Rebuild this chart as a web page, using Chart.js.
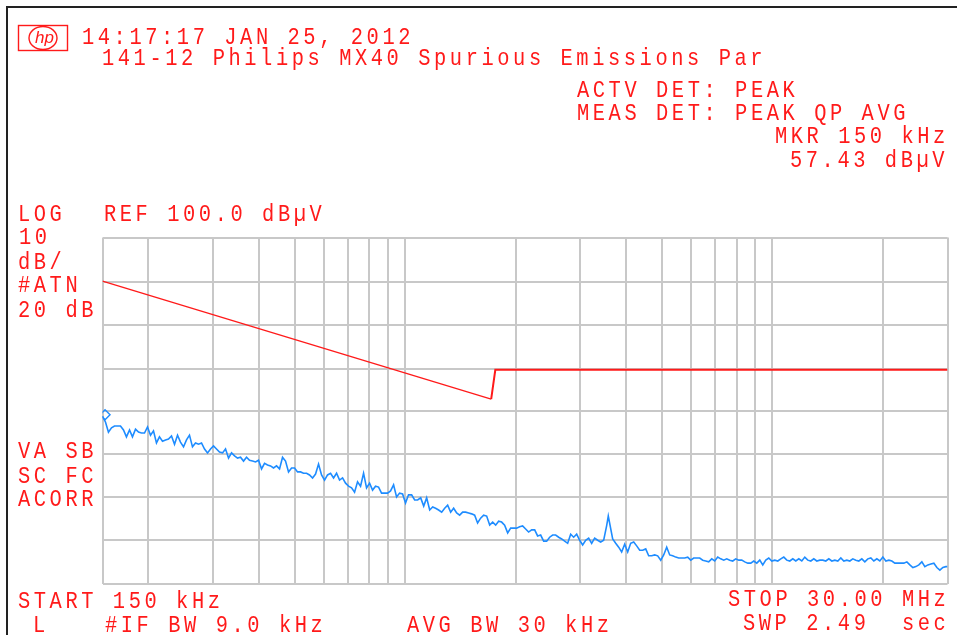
<!DOCTYPE html>
<html>
<head>
<meta charset="utf-8">
<title>141-12 Philips MX40 Spurious Emissions Par</title>
<script src="https://cdn.jsdelivr.net/npm/chart.js@4"></script>
<style>
html,body{margin:0;padding:0;background:#fff;overflow:hidden}
#wrap{position:relative;width:957px;height:635px}
canvas{position:absolute;left:0;top:0}
#frame{position:absolute;left:6px;top:6px;right:0;bottom:0;border-left:2px solid #222;border-top:2px solid #222;pointer-events:none}
</style>
</head>
<body>
<div id="wrap"><canvas id="c" width="957" height="635"></canvas><div id="frame"></div></div>
<script>
// Frequencies in kHz, decibels in dBuV
const gridFreqs = [150,200,300,400,500,600,700,800,900,1000,2000,3000,4000,5000,6000,7000,8000,9000,10000,20000,30000];
const gridLevels = [20,30,40,50,60,69.7,79.8,89.75,100];

const limitSlopeFreq = [150,1716];
const limitSlopeDb = [89.9,62.65];
const limitFlatFreq = [1716,1761,30000];
const limitFlatDb = [62.65,69.4,69.4];

const markerFreq = [152.4];
const markerDb = [59.0];

const traceFreq = [
150.0,152.9,155.7,158.7,161.7,164.8,167.9,171.1,174.3,177.7,181.0,184.5,188.0,191.5,195.2,198.9,202.7,206.5,210.4,214.4,
218.5,222.7,226.9,231.2,235.6,240.1,244.6,249.3,254.0,258.8,263.7,268.8,273.9,279.1,284.4,289.8,295.3,300.9,306.6,312.4,
318.4,324.4,330.6,336.9,343.3,349.8,356.4,363.2,370.1,377.1,384.3,391.6,399.0,406.6,414.3,422.2,430.2,438.4,446.7,455.2,
463.8,472.6,481.6,490.8,500.1,509.6,519.3,529.1,539.2,549.4,559.9,570.5,581.3,592.4,603.6,615.1,626.8,638.7,650.8,663.2,
675.8,688.6,701.7,715.0,728.6,742.4,756.5,770.9,785.5,800.5,815.7,831.1,846.9,863.0,879.4,896.1,913.1,930.5,948.2,966.2,
984.5,1003,1022,1042,1062,1082,1103,1124,1145,1167,1189,1211,1234,1258,1282,1306,1331,1356,1382,1408,
1435,1462,1490,1518,1547,1576,1606,1637,1668,1700,1732,1765,1798,1832,1867,1903,1939,1976,2013,2051,
2090,2130,2170,2212,2254,2296,2340,2385,2430,2476,2523,2571,2620,2670,2720,2772,2825,2878,2933,2989,
3045,3103,3162,3222,3283,3346,3409,3474,3540,3576,3676,3746,3817,3889,3963,4039,4115,4194,4273,4355,
4437,4522,4607,4695,4784,4875,4968,5062,5158,5256,5356,5458,5561,5667,5775,5885,5996,6110,6226,6345,
6465,6588,6713,6841,6971,7103,7238,7376,7516,7659,7804,7953,8104,8258,8415,8575,8738,8904,9073,9245,
9421,9600,9782,9968,10158,10351,10547,10748,10952,11160,11372,11588,11808,12032,12261,12494,12731,12973,13220,13471,
13727,13988,14254,14524,14800,15082,15368,15660,15957,16261,16570,16884,17205,17532,17865,18204,18550,18903,19262,19628,
20001,20381,20768,21162,21564,21974,22392,22817,23251,23693,24143,24601,25069,25545,26030,26525,27029,27543,28066,28599,
29143,29696,30000];

const traceDb = [
58.7,57.3,55.0,56.0,56.4,56.4,56.4,55.5,53.9,55.5,53.9,55.7,55.0,54.8,54.8,56.2,54.3,55.3,52.5,53.9,
52.9,53.2,53.4,54.1,52.2,54.3,52.7,51.6,53.2,54.3,51.6,52.5,52.2,52.5,51.1,50.2,51.1,51.8,51.1,50.4,
50.2,51.1,49.0,50.2,49.5,49.0,49.2,48.3,49.2,48.5,48.3,48.1,48.5,46.5,47.8,47.4,47.2,46.7,47.2,46.5,
49.2,48.3,45.8,46.7,46.7,45.8,45.8,45.5,45.5,45.1,44.4,45.3,47.6,45.1,43.9,45.1,45.5,44.4,45.5,43.9,
44.4,43.2,42.5,42.1,41.1,43.5,42.5,45.5,42.1,43.2,41.6,42.5,42.3,40.9,40.9,40.9,41.4,42.8,40.0,40.9,
40.7,38.6,40.5,40.5,39.3,39.3,39.8,37.9,39.8,37.0,37.7,37.4,37.0,36.5,37.4,38.1,36.5,37.4,36.3,35.8,
36.5,36.5,36.3,36.1,35.8,34.0,35.1,35.8,35.6,33.5,34.2,33.5,34.4,34.2,33.5,31.7,32.8,32.8,32.8,33.1,
33.3,32.6,31.9,32.4,32.4,31.0,31.2,29.8,29.8,30.7,31.2,31.2,30.7,30.3,29.8,29.3,31.4,30.7,31.4,30.0,
28.9,30.0,30.5,29.3,30.5,30.0,29.6,30.0,33.4,35.6,30.3,29.3,28.4,27.3,29.1,27.3,29.3,29.6,28.7,27.7,
27.7,28.0,26.4,26.4,26.6,26.4,25.4,26.6,28.4,26.6,26.4,26.1,25.9,25.9,25.9,26.1,25.4,25.9,25.9,25.9,
25.4,25.2,25.0,25.7,25.2,26.1,25.7,25.4,25.7,25.4,25.2,25.7,25.4,25.4,25.0,24.7,24.7,25.2,24.7,25.4,
24.3,25.4,25.9,25.2,25.4,25.2,25.7,26.1,25.4,25.2,25.7,25.2,25.7,25.2,26.1,25.4,25.2,25.7,25.2,25.4,
25.4,25.2,25.7,25.2,25.4,25.2,25.9,25.2,25.4,25.2,25.7,25.4,25.2,25.7,25.0,25.7,25.9,25.2,25.7,25.2,
26.1,25.2,25.4,25.2,24.7,24.7,24.7,24.7,25.0,24.3,23.7,23.9,24.3,25.0,23.9,24.3,24.5,24.7,23.7,23.1,
23.7,23.9,23.9];

const pairs = (xs, ys) => xs.map((x, i) => ({x, y: ys[i]}));

const RED = '#ff1a1a';
const BLUE = '#1e8cff';

// Instrument annotations: [text, left, baseline]
const annotations = [
  ['14:17:17 JAN 25, 2012', 82, 44],
  ['141-12 Philips MX40 Spurious Emissions Par', 102, 65],
  ['ACTV DET: PEAK', 577, 97],
  ['MEAS DET: PEAK QP AVG', 577, 120],
  ['MKR 150 kHz', 775, 143],
  ['57.43 dBµV', 790, 167],
  ['LOG', 18, 221],
  ['REF 100.0 dBµV', 104, 221],
  ['10', 19, 244],
  ['dB/', 18, 269],
  ['#ATN', 18, 292],
  ['20 dB', 18, 317],
  ['VA SB', 18, 458],
  ['SC FC', 18, 483],
  ['ACORR', 18, 506],
  ['START 150 kHz', 18, 608],
  ['L', 33, 632],
  ['#IF BW 9.0 kHz', 105, 632],
  ['AVG BW 30 kHz', 407, 632],
  ['STOP 30.00 MHz', 728, 606],
  ['SWP 2.49', 743, 630],
  ['sec', 902, 630]
];

const GLYPH_SQUEEZE = 0.85;

const annotationPlugin = {
  id: 'annotationText',
  afterDraw(chart) {
    const ctx = chart.ctx;
    ctx.save();
    ctx.fillStyle = RED;
    ctx.textBaseline = 'alphabetic';
    ctx.textAlign = 'left';
    ctx.font = '24px "Liberation Mono", monospace';
    ctx.letterSpacing = '4.2px';
    annotations.forEach(([t, x, y]) => {
      ctx.save();
      ctx.translate(x, y);
      ctx.scale(GLYPH_SQUEEZE, 1);
      ctx.fillText(t, 0, 0);
      ctx.restore();
    });
    // analyzer maker's badge
    ctx.letterSpacing = '0px';
    ctx.strokeStyle = RED;
    ctx.lineWidth = 1.4;
    ctx.strokeRect(18.5, 25.5, 49, 25);
    ctx.beginPath();
    ctx.ellipse(43, 38, 14, 11.5, 0, 0, Math.PI * 2);
    ctx.stroke();
    ctx.font = 'italic 17px "Liberation Sans", sans-serif';
    ctx.fillText('hp', 35, 43);
    ctx.restore();
  }
};

new Chart(document.getElementById('c'), {
  type: 'line',
  plugins: [annotationPlugin],
  data: {
    datasets: [
      {label: 'Limit', data: pairs(limitSlopeFreq, limitSlopeDb), borderColor: RED, borderWidth: 1.3, pointRadius: 0, tension: 0},
      {label: 'Limit flat', data: pairs(limitFlatFreq, limitFlatDb), borderColor: RED, borderWidth: 2, pointRadius: 0, tension: 0},
      {label: 'Trace', data: pairs(traceFreq, traceDb), borderColor: BLUE, borderWidth: 1.6, pointRadius: 0, tension: 0},
      {label: 'Marker', data: pairs(markerFreq, markerDb), showLine: false, borderColor: BLUE, backgroundColor: 'rgba(0,0,0,0)', borderWidth: 1.4, pointStyle: 'rectRot', pointRadius: 5}
    ]
  },
  options: {
    responsive: false,
    animation: false,
    devicePixelRatio: 1,
    layout: {padding: {left: 102.5, top: 237.5, right: 9.5, bottom: 51.5}},
    plugins: {legend: {display: false}, tooltip: {enabled: false}, title: {display: false}},
    scales: {
      x: {
        type: 'logarithmic', min: 150, max: 30000,
        afterBuildTicks: s => { s.ticks = gridFreqs.map(v => ({value: v})); },
        ticks: {display: false},
        grid: {color: '#c8c8c8', lineWidth: 2, drawTicks: false},
        border: {display: false}
      },
      y: {
        type: 'linear', min: 20, max: 100,
        afterBuildTicks: s => { s.ticks = gridLevels.map(v => ({value: v})); },
        ticks: {display: false},
        grid: {color: '#c8c8c8', lineWidth: 2, drawTicks: false},
        border: {display: false}
      }
    }
  }
});
</script>
</body>
</html>
